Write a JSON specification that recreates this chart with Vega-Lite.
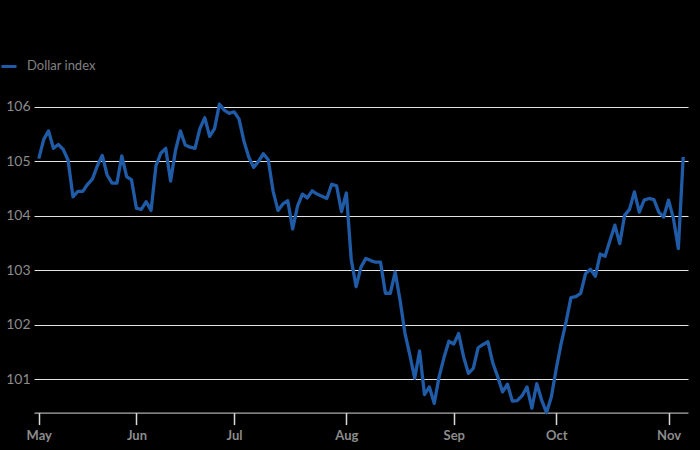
{
  "$schema": "https://vega.github.io/schema/vega-lite/v6.json",
  "width": 654,
  "height": 316.6,
  "autosize": {"type": "none"},
  "padding": {"left": 34, "top": 96, "right": 12, "bottom": 38},
  "background": "#000000",
  "config": {"view": {"stroke": null}, "font": "Lato"},
  "data": {
    "values": [
      {"date": "2024-05-06", "value": 105.05},
      {"date": "2024-05-07", "value": 105.40},
      {"date": "2024-05-08", "value": 105.56},
      {"date": "2024-05-09", "value": 105.24},
      {"date": "2024-05-10", "value": 105.31},
      {"date": "2024-05-13", "value": 105.22},
      {"date": "2024-05-14", "value": 105.02},
      {"date": "2024-05-15", "value": 104.35},
      {"date": "2024-05-16", "value": 104.45},
      {"date": "2024-05-17", "value": 104.45},
      {"date": "2024-05-20", "value": 104.58},
      {"date": "2024-05-21", "value": 104.68},
      {"date": "2024-05-22", "value": 104.92},
      {"date": "2024-05-23", "value": 105.11},
      {"date": "2024-05-24", "value": 104.75},
      {"date": "2024-05-27", "value": 104.60},
      {"date": "2024-05-28", "value": 104.60},
      {"date": "2024-05-29", "value": 105.10},
      {"date": "2024-05-30", "value": 104.72},
      {"date": "2024-05-31", "value": 104.66},
      {"date": "2024-06-03", "value": 104.14},
      {"date": "2024-06-04", "value": 104.12},
      {"date": "2024-06-05", "value": 104.26},
      {"date": "2024-06-06", "value": 104.10},
      {"date": "2024-06-07", "value": 104.92},
      {"date": "2024-06-10", "value": 105.15},
      {"date": "2024-06-11", "value": 105.24},
      {"date": "2024-06-12", "value": 104.64},
      {"date": "2024-06-13", "value": 105.20},
      {"date": "2024-06-14", "value": 105.56},
      {"date": "2024-06-17", "value": 105.30},
      {"date": "2024-06-18", "value": 105.26},
      {"date": "2024-06-19", "value": 105.24},
      {"date": "2024-06-20", "value": 105.60},
      {"date": "2024-06-21", "value": 105.80},
      {"date": "2024-06-24", "value": 105.46},
      {"date": "2024-06-25", "value": 105.60},
      {"date": "2024-06-26", "value": 106.05},
      {"date": "2024-06-27", "value": 105.94},
      {"date": "2024-06-28", "value": 105.88},
      {"date": "2024-07-01", "value": 105.91},
      {"date": "2024-07-02", "value": 105.78},
      {"date": "2024-07-03", "value": 105.38},
      {"date": "2024-07-04", "value": 105.08},
      {"date": "2024-07-05", "value": 104.89},
      {"date": "2024-07-08", "value": 105.00},
      {"date": "2024-07-09", "value": 105.14},
      {"date": "2024-07-10", "value": 105.03},
      {"date": "2024-07-11", "value": 104.45},
      {"date": "2024-07-12", "value": 104.10},
      {"date": "2024-07-15", "value": 104.22},
      {"date": "2024-07-16", "value": 104.28},
      {"date": "2024-07-17", "value": 103.76},
      {"date": "2024-07-18", "value": 104.18},
      {"date": "2024-07-19", "value": 104.40},
      {"date": "2024-07-22", "value": 104.33},
      {"date": "2024-07-23", "value": 104.46},
      {"date": "2024-07-24", "value": 104.40},
      {"date": "2024-07-25", "value": 104.36},
      {"date": "2024-07-26", "value": 104.32},
      {"date": "2024-07-29", "value": 104.58},
      {"date": "2024-07-30", "value": 104.55},
      {"date": "2024-07-31", "value": 104.08},
      {"date": "2024-08-01", "value": 104.42},
      {"date": "2024-08-02", "value": 103.20},
      {"date": "2024-08-05", "value": 102.70},
      {"date": "2024-08-06", "value": 103.06},
      {"date": "2024-08-07", "value": 103.22},
      {"date": "2024-08-08", "value": 103.18},
      {"date": "2024-08-09", "value": 103.15},
      {"date": "2024-08-12", "value": 103.15},
      {"date": "2024-08-13", "value": 102.58},
      {"date": "2024-08-14", "value": 102.58},
      {"date": "2024-08-15", "value": 102.97},
      {"date": "2024-08-16", "value": 102.45},
      {"date": "2024-08-19", "value": 101.85},
      {"date": "2024-08-20", "value": 101.45},
      {"date": "2024-08-21", "value": 101.02},
      {"date": "2024-08-22", "value": 101.52},
      {"date": "2024-08-23", "value": 100.72},
      {"date": "2024-08-26", "value": 100.86},
      {"date": "2024-08-27", "value": 100.56},
      {"date": "2024-08-28", "value": 101.05},
      {"date": "2024-08-29", "value": 101.40},
      {"date": "2024-08-30", "value": 101.70},
      {"date": "2024-09-02", "value": 101.65},
      {"date": "2024-09-03", "value": 101.84},
      {"date": "2024-09-04", "value": 101.42},
      {"date": "2024-09-05", "value": 101.11},
      {"date": "2024-09-06", "value": 101.20},
      {"date": "2024-09-09", "value": 101.58},
      {"date": "2024-09-10", "value": 101.64},
      {"date": "2024-09-11", "value": 101.69},
      {"date": "2024-09-12", "value": 101.30},
      {"date": "2024-09-13", "value": 101.05},
      {"date": "2024-09-16", "value": 100.77},
      {"date": "2024-09-17", "value": 100.91},
      {"date": "2024-09-18", "value": 100.60},
      {"date": "2024-09-19", "value": 100.61},
      {"date": "2024-09-20", "value": 100.70},
      {"date": "2024-09-23", "value": 100.86},
      {"date": "2024-09-24", "value": 100.47},
      {"date": "2024-09-25", "value": 100.92},
      {"date": "2024-09-26", "value": 100.62},
      {"date": "2024-09-27", "value": 100.39},
      {"date": "2024-09-30", "value": 100.68},
      {"date": "2024-10-01", "value": 101.20},
      {"date": "2024-10-02", "value": 101.66},
      {"date": "2024-10-03", "value": 102.05},
      {"date": "2024-10-04", "value": 102.50},
      {"date": "2024-10-07", "value": 102.52},
      {"date": "2024-10-08", "value": 102.58},
      {"date": "2024-10-09", "value": 102.94},
      {"date": "2024-10-10", "value": 103.02},
      {"date": "2024-10-11", "value": 102.89},
      {"date": "2024-10-14", "value": 103.30},
      {"date": "2024-10-15", "value": 103.26},
      {"date": "2024-10-16", "value": 103.55},
      {"date": "2024-10-17", "value": 103.83},
      {"date": "2024-10-18", "value": 103.49},
      {"date": "2024-10-21", "value": 104.01},
      {"date": "2024-10-22", "value": 104.12},
      {"date": "2024-10-23", "value": 104.44},
      {"date": "2024-10-24", "value": 104.07},
      {"date": "2024-10-25", "value": 104.29},
      {"date": "2024-10-28", "value": 104.32},
      {"date": "2024-10-29", "value": 104.30},
      {"date": "2024-10-30", "value": 104.07},
      {"date": "2024-10-31", "value": 103.98},
      {"date": "2024-11-01", "value": 104.29},
      {"date": "2024-11-04", "value": 103.95},
      {"date": "2024-11-05", "value": 103.40},
      {"date": "2024-11-06", "value": 105.08}
    ]
  },
  "mark": {"type": "line", "strokeWidth": 3.3, "strokeJoin": "round"},
  "encoding": {
    "x": {
      "field": "date",
      "type": "ordinal",
      "scale": {"type": "point", "padding": 0.98},
      "axis": {
        "title": null,
        "values": ["2024-05-06", "2024-06-03", "2024-07-01", "2024-08-01", "2024-09-02", "2024-10-01", "2024-11-01"],
        "labelExpr": "utcFormat(toDate(datum.value), '%b')",
        "labelAngle": 0,
        "grid": false,
        "domainColor": "#d9d9d9",
        "domainWidth": 1,
        "tickColor": "#d9d9d9",
        "tickSize": 12,
        "tickWidth": 1.5,
        "labelPadding": 5,
        "labelFontSize": 13,
        "labelFontWeight": "bold",
        "labelColor": "#8c8c8c"
      }
    },
    "y": {
      "field": "value",
      "type": "quantitative",
      "scale": {"domain": [100.39, 106.2], "zero": false, "nice": false},
      "axis": {
        "title": null,
        "values": [101, 102, 103, 104, 105, 106],
        "domain": false,
        "ticks": false,
        "grid": true,
        "gridColor": "#e3e3e3",
        "gridWidth": 1.2,
        "labelFontSize": 14,
        "labelColor": "#8c8c8c",
        "labelPadding": 4
      }
    },
    "color": {
      "datum": "Dollar index",
      "type": "nominal",
      "scale": {"range": ["#1f5ba6"]},
      "legend": {
        "title": null,
        "orient": "none",
        "legendX": -34,
        "legendY": -38.5,
        "symbolType": "stroke",
        "symbolSize": 225,
        "symbolStrokeWidth": 3,
        "labelFontSize": 13,
        "labelColor": "#808080",
        "labelOffset": 9,
        "padding": 0
      }
    }
  }
}
